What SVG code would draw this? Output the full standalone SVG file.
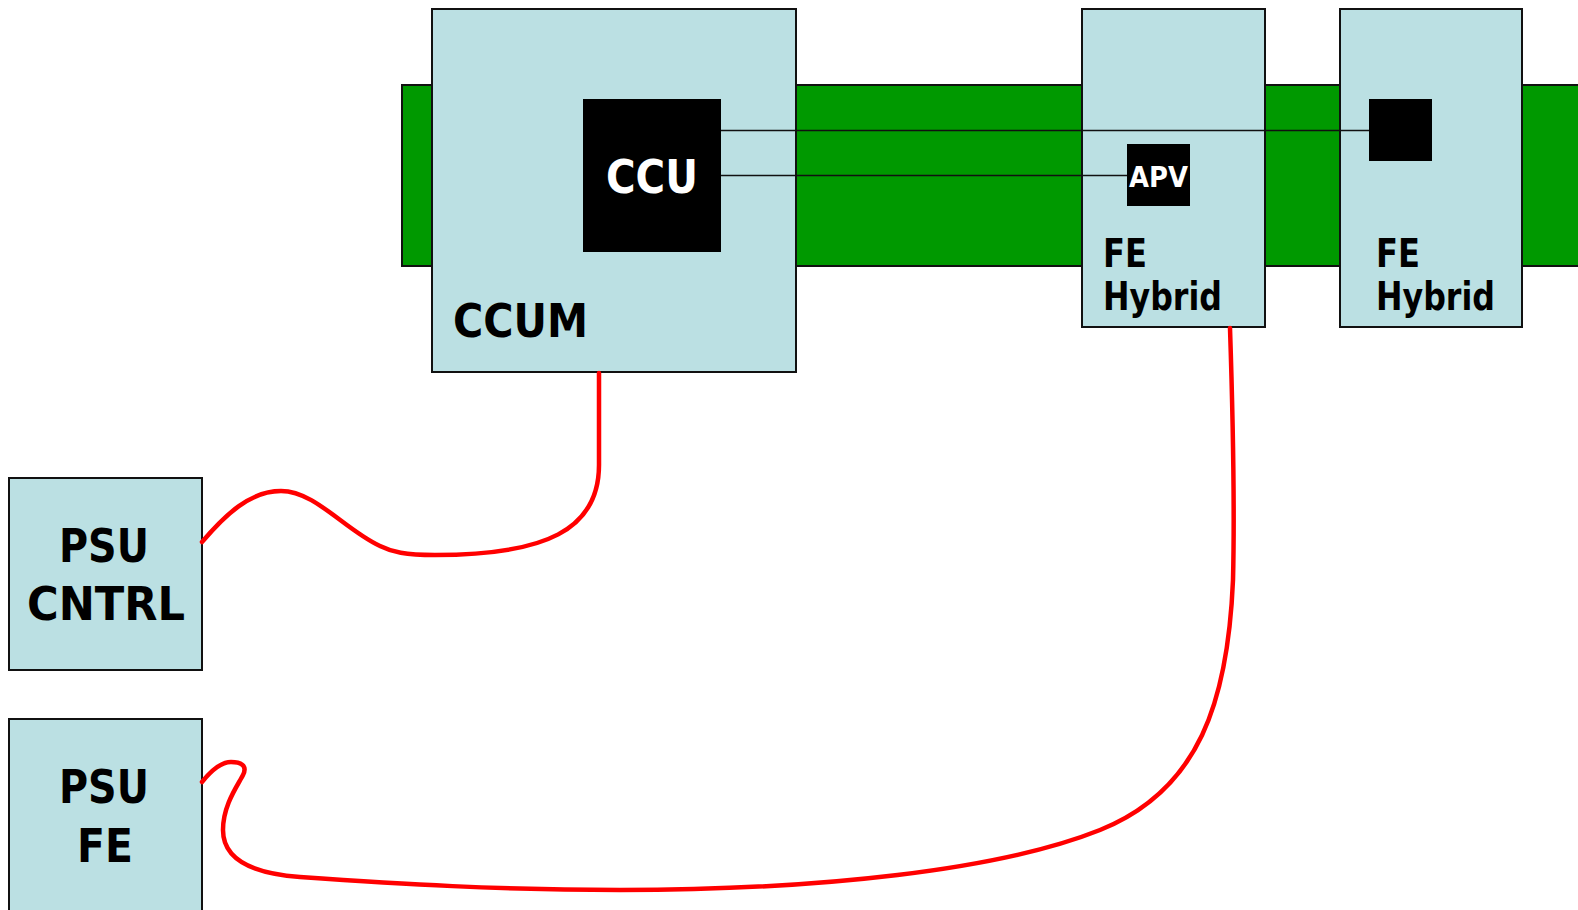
<svg xmlns="http://www.w3.org/2000/svg" width="1578" height="910" viewBox="0 0 1578 910">
<style>
.box{fill:#BBE0E3;stroke:#111;stroke-width:2}
.chip{fill:#000}
.t{font-family:"Comic Sans MS","DejaVu Sans",sans-serif;font-weight:bold;fill:#000}
.w{fill:#fff}
.wire{fill:none;stroke:#111;stroke-width:1.6}
.cable{fill:none;stroke:#FF0000;stroke-width:4.5;stroke-linecap:round}
</style>
<rect width="1578" height="910" fill="#fff"/>
<g id="band">
<rect x="402" y="85" width="1180" height="181" fill="#009900" stroke="#111" stroke-width="2"/>
</g>
<g id="ccum">
<rect class="box" x="432" y="9" width="364" height="363"/>
<rect class="chip" x="583" y="99" width="138" height="153"/>
<text class="t w" x="652" y="193" font-size="46" text-anchor="middle" textLength="92" lengthAdjust="spacingAndGlyphs">CCU</text>
<text class="t" x="453" y="337" font-size="46" textLength="135" lengthAdjust="spacingAndGlyphs">CCUM</text>
</g>
<g id="fe-hybrid-1">
<rect class="box" x="1082" y="9" width="183" height="318"/>
<rect class="chip" x="1127" y="144" width="63" height="62"/>
<text class="t w" x="1158.5" y="187" font-size="29" text-anchor="middle" textLength="59" lengthAdjust="spacingAndGlyphs">APV</text>
<text class="t" x="1103" y="267" font-size="39" textLength="44" lengthAdjust="spacingAndGlyphs">FE</text>
<text class="t" x="1103" y="310" font-size="39" textLength="119" lengthAdjust="spacingAndGlyphs">Hybrid</text>
</g>
<g id="fe-hybrid-2">
<rect class="box" x="1340" y="9" width="182" height="318"/>
<rect class="chip" x="1369" y="99" width="63" height="62"/>
<text class="t" x="1376" y="267" font-size="39" textLength="44" lengthAdjust="spacingAndGlyphs">FE</text>
<text class="t" x="1376" y="310" font-size="39" textLength="119" lengthAdjust="spacingAndGlyphs">Hybrid</text>
</g>
<g id="psu-cntrl">
<rect class="box" x="9" y="478" width="193" height="192"/>
<text class="t" x="104" y="562" font-size="46" text-anchor="middle" textLength="90" lengthAdjust="spacingAndGlyphs">PSU</text>
<text class="t" x="106" y="620" font-size="46" text-anchor="middle" textLength="158" lengthAdjust="spacingAndGlyphs">CNTRL</text>
</g>
<g id="psu-fe">
<rect class="box" x="9" y="719" width="193" height="200"/>
<text class="t" x="104" y="803" font-size="46" text-anchor="middle" textLength="90" lengthAdjust="spacingAndGlyphs">PSU</text>
<text class="t" x="105" y="862" font-size="46" text-anchor="middle" textLength="56" lengthAdjust="spacingAndGlyphs">FE</text>
</g>
<g id="connectors">
<line class="wire" x1="721" y1="130.5" x2="1369" y2="130.5"/>
<line class="wire" x1="721" y1="175.5" x2="1127" y2="175.5"/>
<path class="cable" d="M 599 373 L 599 465 C 599 530 545 555 435 555 C 405 555 392 552 380 546 C 345 530 315 491 281 491 C 250 491 225 515 202 542"/>
<path class="cable" d="M 1230 328 C 1233 420 1235 500 1233 580 C 1228 700 1200 790 1100 830 C 1000 870 820 890 620 890 C 500 890 400 884 300 877 C 245 873 223 855 223 830 C 223 805 238 785 243 775 C 248 765 240 762 231 762 C 220 762 210 772 202 782"/>
</g>
</svg>
